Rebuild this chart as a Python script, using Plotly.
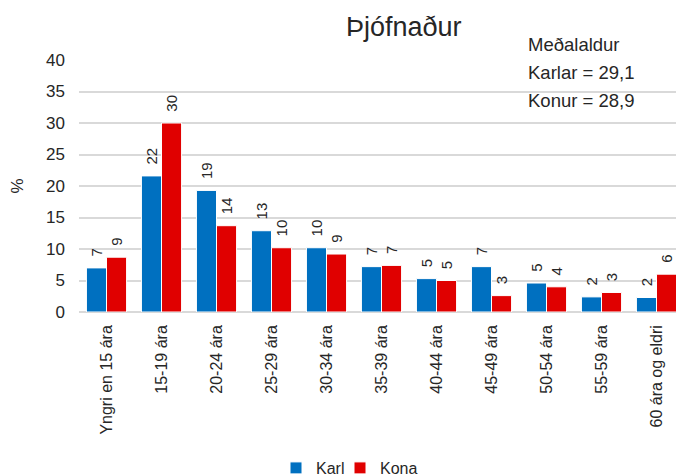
import plotly.graph_objects as go

categories = ["Yngri en 15 ára", "15-19 ára", "20-24 ára", "25-29 ára", "30-34 ára",
              "35-39 ára", "40-44 ára", "45-49 ára", "50-54 ára", "55-59 ára", "60 ára og eldri"]
karl = [7.0, 21.6, 19.3, 12.9, 10.2, 7.2, 5.3, 7.2, 4.6, 2.4, 2.3]
kona = [8.7, 30.0, 13.7, 10.2, 9.2, 7.4, 5.0, 2.6, 4.0, 3.1, 6.0]
y_ticks = [0, 5, 10, 15, 20, 25, 30, 35, 40]

FONT = "Liberation Sans"
BLUE = "#0070C0"
RED = "#E00000"
TXT = "#262626"

# page is drawn with an 8px body margin; figure coordinates below are page - 8
W, H = 676, 468
L, T, B = 71, 52, 164
PW, PH = W - L, H - T - B


def px(xp):
    return (xp - 8 - L) / PW


def py(yp):
    return (H - B - (yp - 8)) / PH


fig = go.Figure()
for name, vals, col, lg in [("Karl", karl, BLUE, "legend"), ("Kona", kona, RED, "legend2")]:
    fig.add_trace(go.Bar(
        x=categories, y=vals, name=name, legend=lg,
        marker=dict(color=col, line=dict(color="white", width=1)),
        texttemplate="\u00a0\u00a0%{y:.0f}", textposition="outside", textangle=-90,
        textfont=dict(size=15, color=TXT, family=FONT), constraintext="none",
        cliponaxis=False,
    ))

leg_common = dict(orientation="h", yanchor="middle", font=dict(size=16, family=FONT, color=TXT),
                  itemwidth=30, bgcolor="rgba(0,0,0,0)")
fig.update_layout(
    width=W, height=H,
    margin=dict(l=L, r=0, t=T, b=B, autoexpand=False),
    plot_bgcolor="white", paper_bgcolor="white",
    barmode="group", bargap=0.27, bargroupgap=0.0,
    font=dict(family=FONT, color=TXT),
    showlegend=True,
    legend=dict(x=px(296 - 20), xanchor="left", y=py(468), **leg_common),
    legend2=dict(x=px(360 - 20), xanchor="left", y=py(468), **leg_common),
    xaxis=dict(tickangle=-90, tickfont=dict(size=16, family=FONT, color=TXT), showgrid=False,
               showline=False, ticks="", automargin=False, ticklabelstandoff=9),
    yaxis=dict(range=[0, 40], tickvals=y_ticks, tickfont=dict(size=17, family=FONT, color=TXT),
               gridcolor="#D9D9D9", gridwidth=1.5, zeroline=True, zerolinecolor="#D9D9D9",
               zerolinewidth=1.5, ticks="", automargin=False, ticklabelstandoff=13,
               title=dict(text="%", font=dict(size=17, family=FONT, color=TXT), standoff=22)),
)

fig.add_annotation(text="Þjófnaður", xref="paper", yref="paper", x=px(404),
                   xanchor="center", y=py(27), yanchor="middle", showarrow=False,
                   font=dict(size=27, family=FONT, color=TXT))

notes = ["Meðalaldur", "Karlar = 29,1", "Konur = 28,9"]
for i, t in enumerate(notes):
    fig.add_annotation(text=t, xref="paper", yref="paper", x=px(526), xanchor="left",
                       y=py(44 + 28 * i), yanchor="middle", showarrow=False,
                       font=dict(size=18.5, family=FONT, color=TXT))

fig.write_html("out.html")
